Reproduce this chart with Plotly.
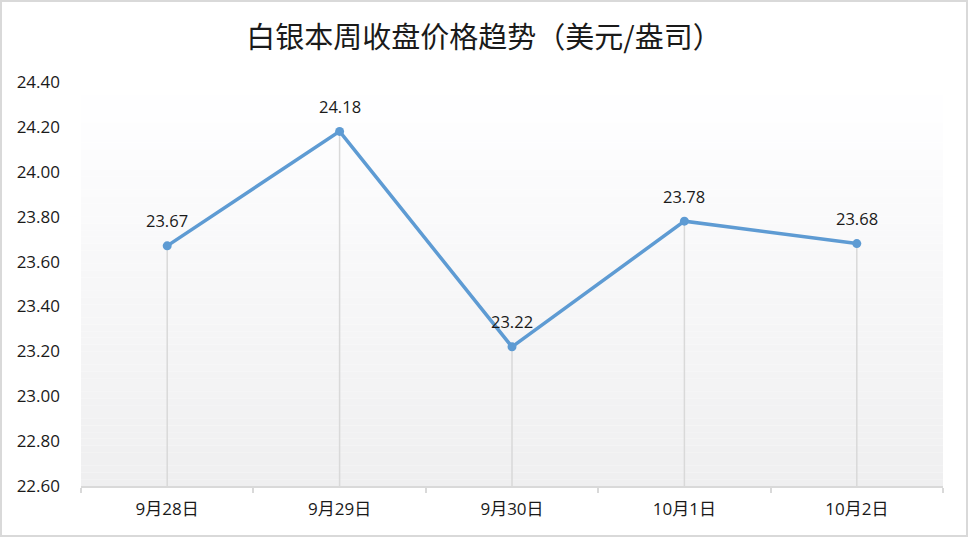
import plotly.graph_objects as go

categories = ["9月28日", "9月29日", "9月30日", "10月1日", "10月2日"]
prices = [23.67, 24.18, 23.22, 23.78, 23.68]
y_ticks = [22.60, 22.80, 23.00, 23.20, 23.40, 23.60, 23.80, 24.00, 24.20, 24.40]
title_text = "白银本周收盘价格趋势（美元/盎司）"

W, H = 968, 537
ML, MR, MT, MB = 81, 25, 82, 51
PW, PH = W - ML - MR, H - MT - MB
FONT = "Open Sans, Noto Sans CJK SC, sans-serif"
TFONT = "Noto Sans CJK SC, sans-serif"
TXT = "#1a1a1a"
YMIN, YMAX = y_ticks[0], y_ticks[-1]

fig = go.Figure()

# drop lines from each point to the axis
dx, dy = [], []
for c, v in zip(categories, prices):
    dx += [c, c, None]
    dy += [YMIN, v, None]
fig.add_trace(go.Scatter(x=dx, y=dy, mode="lines",
                         line=dict(color="#d9d9d9", width=1.5),
                         hoverinfo="skip", showlegend=False))

fig.add_trace(go.Scatter(x=categories, y=prices, mode="lines+markers",
                         line=dict(color="#5e9bd3", width=3.5),
                         marker=dict(color="#5e9bd3", size=9),
                         showlegend=False))

for c, v in zip(categories, prices):
    fig.add_annotation(x=c, y=v, text=f"{v:.2f}", showarrow=False,
                       yshift=25, font=dict(family=FONT, size=16.5, color=TXT))

# gradient background bands
shapes = []
N = 60
for i in range(N):
    t = i / (N - 1)
    g = round(255 - (255 - 239) * t)
    col = f"rgb({g},{g},{min(g + 1, 255)})"
    shapes.append(dict(type="rect", xref="x domain", yref="y domain",
                       x0=0, x1=1, y0=1 - (i + 1) / N, y1=1 - i / N,
                       fillcolor=col, line=dict(width=0), layer="below"))
# outer border
shapes.append(dict(type="rect", xref="paper", yref="paper",
                   x0=-(ML - 1) / PW, x1=1 + (MR - 1) / PW,
                   y0=-(MB - 1) / PH, y1=1 + (MT - 1) / PH,
                   line=dict(color="#d9d9d9", width=2), fillcolor="rgba(0,0,0,0)"))

fig.update_layout(
    width=W, height=H,
    margin=dict(l=ML, r=MR, t=MT, b=MB),
    paper_bgcolor="white", plot_bgcolor="rgba(0,0,0,0)",
    shapes=shapes,
    title=dict(text=title_text, x=0.5, xref="container", xanchor="center",
               y=1 - 38 / H, yref="container", yanchor="middle",
               font=dict(family=TFONT, size=29, color=TXT)),
    font=dict(family=FONT, size=17, color=TXT),
)
fig.update_xaxes(type="category", range=[-0.5, 4.5], showgrid=False,
                 showline=True, linecolor="#d9d9d9", linewidth=1.5,
                 ticks="outside", tickson="boundaries", ticklen=5,
                 tickcolor="#d9d9d9", tickwidth=1.5, ticklabelstandoff=7,
                 tickfont=dict(family=FONT, size=17, color=TXT),
                 zeroline=False)
fig.update_yaxes(range=[YMIN, YMAX], tickvals=y_ticks,
                 ticktext=[f"{v:.2f}" for v in y_ticks],
                 showgrid=False, showline=False, zeroline=False, ticks="",
                 ticklabelstandoff=20,
                 tickfont=dict(family=FONT, size=17, color=TXT))

fig.write_html("out.html", config={"displayModeBar": False},
               post_script="document.body.style.margin='0';document.body.style.padding='0';")
